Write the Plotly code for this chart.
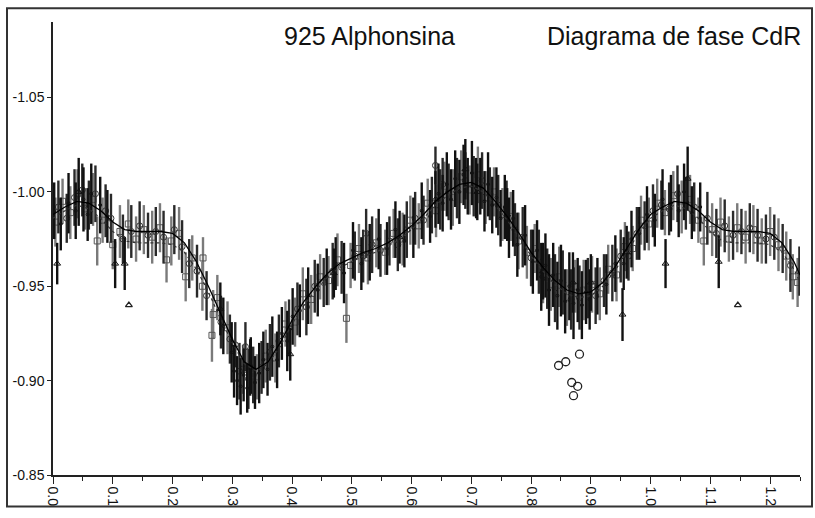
import plotly.graph_objects as go

# ---------------- data ----------------
sq_phase = [0.004, 0.016, 0.029, 0.041, 0.054, 0.067, 0.074, 0.083, 0.100, 0.112, 0.126, 0.139, 0.152, 0.166,
            0.179, 0.190, 0.198, 0.211, 0.222, 0.233, 0.250, 0.251, 0.266, 0.268, 0.275, 0.292, 0.318, 0.341,
            0.356, 0.372, 0.389, 0.405, 0.418, 0.432, 0.447, 0.461, 0.476, 0.491, 0.498, 0.512, 0.527, 0.541,
            0.556, 0.570, 0.585, 0.598, 0.612, 0.627, 0.641, 0.655, 0.669, 0.683, 0.697, 0.711, 0.724, 0.738,
            0.752, 0.766, 0.779, 0.793, 0.806, 0.820, 0.833, 0.847, 0.860, 0.874, 0.888, 0.902, 0.915, 0.929,
            0.943, 0.957, 0.970, 0.984, 0.997, 1.011, 1.024, 1.038, 1.052, 1.066, 1.080, 1.089, 1.103, 1.117,
            1.131, 1.145, 1.159, 1.172, 1.186, 1.200, 1.214, 1.227, 1.238, 1.246]
sq_mag = [-0.984, -0.995, -0.989, -0.999, -0.991, -0.996, -0.974, -0.985, -0.972, -0.979, -0.983, -0.975, -0.980, -0.976,
          -0.981, -0.964, -0.974, -0.978, -0.955, -0.965, -0.950, -0.965, -0.924, -0.935, -0.944, -0.928, -0.906, -0.902,
          -0.913, -0.912, -0.930, -0.931, -0.946, -0.943, -0.955, -0.953, -0.964, -0.933, -0.961, -0.970, -0.965, -0.973,
          -0.968, -0.978, -0.975, -0.985, -0.982, -0.994, -0.990, -1.003, -0.997, -1.008, -1.001, -1.009, -0.997, -1.000,
          -0.988, -0.987, -0.974, -0.968, -0.970, -0.956, -0.951, -0.955, -0.944, -0.950, -0.948, -0.951, -0.946, -0.959,
          -0.956, -0.971, -0.970, -0.985, -0.983, -0.994, -0.989, -0.998, -0.992, -0.996, -0.985, -0.974, -0.980, -0.984,
          -0.975, -0.981, -0.976, -0.980, -0.974, -0.979, -0.972, -0.966, -0.955, -0.952]
sq_err = [0.013, 0.012, 0.014, 0.013, 0.011, 0.014, 0.013, 0.012, 0.013, 0.014, 0.013, 0.012, 0.013, 0.014,
          0.013, 0.012, 0.013, 0.014, 0.013, 0.012, 0.013, 0.011, 0.014, 0.013, 0.012, 0.014, 0.013, 0.012,
          0.014, 0.013, 0.012, 0.013, 0.014, 0.013, 0.012, 0.013, 0.014, 0.013, 0.012, 0.013, 0.014, 0.013,
          0.012, 0.013, 0.014, 0.013, 0.012, 0.013, 0.014, 0.013, 0.015, 0.014, 0.013, 0.015, 0.014, 0.013,
          0.014, 0.013, 0.015, 0.014, 0.013, 0.015, 0.014, 0.016, 0.015, 0.014, 0.016, 0.015, 0.014, 0.013,
          0.014, 0.013, 0.012, 0.013, 0.014, 0.013, 0.012, 0.013, 0.014, 0.013, 0.012, 0.013, 0.014, 0.013,
          0.012, 0.013, 0.014, 0.013, 0.012, 0.013, 0.014, 0.013, 0.012, 0.013]

ci_phase = [0.009, 0.023, 0.036, 0.049, 0.060, 0.071, 0.088, 0.097, 0.117, 0.131, 0.145, 0.159, 0.172, 0.185,
            0.203, 0.216, 0.228, 0.241, 0.257, 0.281, 0.296, 0.305, 0.322, 0.312, 0.327, 0.335, 0.349, 0.363,
            0.378, 0.395, 0.409, 0.424, 0.438, 0.453, 0.468, 0.483, 0.505, 0.519, 0.524, 0.534, 0.548, 0.563,
            0.577, 0.592, 0.606, 0.620, 0.634, 0.640, 0.648, 0.652, 0.662, 0.676, 0.690, 0.704, 0.718, 0.731,
            0.745, 0.759, 0.773, 0.786, 0.800, 0.813, 0.827, 0.840, 0.853, 0.867, 0.881, 0.895, 0.908, 0.922,
            0.936, 0.950, 0.963, 0.977, 0.990, 1.004, 1.018, 1.031, 1.045, 1.059, 1.073, 1.095, 1.110, 1.124,
            1.138, 1.152, 1.166, 1.179, 1.193, 1.207, 1.221, 1.234, 1.249]
ci_mag = [-0.992, -0.986, -0.997, -1.001, -0.993, -0.999, -0.990, -0.986, -0.975, -0.979, -0.982, -0.977, -0.979, -0.976,
          -0.980, -0.971, -0.962, -0.958, -0.945, -0.931, -0.922, -0.919, -0.918, -0.905, -0.901, -0.903, -0.907, -0.915,
          -0.921, -0.928, -0.938, -0.939, -0.950, -0.952, -0.958, -0.960, -0.966, -0.966, -0.978, -0.972, -0.969, -0.974,
          -0.972, -0.980, -0.986, -0.985, -0.993, -1.014, -0.996, -1.004, -1.000, -1.002, -1.006, -1.003, -1.006, -0.999,
          -0.993, -0.991, -0.980, -0.976, -0.965, -0.963, -0.954, -0.949, -0.952, -0.943, -0.944, -0.949, -0.945, -0.953,
          -0.957, -0.966, -0.966, -0.978, -0.982, -0.990, -0.993, -0.991, -0.999, -0.994, -0.992, -0.986, -0.978, -0.982,
          -0.977, -0.979, -0.981, -0.977, -0.975, -0.976, -0.970, -0.961, -0.958]
ci_err = [0.014, 0.013, 0.015, 0.014, 0.013, 0.015, 0.014, 0.013, 0.013, 0.014, 0.013, 0.012, 0.013, 0.014,
          0.013, 0.014, 0.013, 0.014, 0.013, 0.014, 0.013, 0.012, 0.013, 0.015, 0.016, 0.015, 0.014, 0.015,
          0.014, 0.015, 0.014, 0.015, 0.014, 0.013, 0.015, 0.014, 0.013, 0.014, 0.013, 0.015, 0.014, 0.013,
          0.014, 0.015, 0.014, 0.013, 0.015, 0.010, 0.016, 0.014, 0.015, 0.016, 0.015, 0.016, 0.015, 0.014,
          0.016, 0.015, 0.014, 0.016, 0.015, 0.017, 0.016, 0.018, 0.017, 0.016, 0.017, 0.016, 0.015, 0.014,
          0.015, 0.014, 0.013, 0.014, 0.013, 0.014, 0.013, 0.014, 0.015, 0.014, 0.013, 0.014, 0.013, 0.014,
          0.013, 0.012, 0.013, 0.014, 0.013, 0.012, 0.013, 0.014, 0.013]

tr_phase = [0.007, 0.043, 0.104, 0.120, 0.280, 0.330, 0.397, 0.470, 0.580, 0.640, 0.690, 0.710, 0.760,
            0.820, 0.870, 0.900, 0.953, 0.960, 1.025, 1.062, 1.114]
tr_mag = [-0.962, -1.000, -0.962, -0.962, -0.938, -0.907, -0.914, -0.957, -0.976, -0.996, -1.012, -1.000, -0.988,
          -0.958, -0.952, -0.952, -0.935, -0.968, -0.962, -1.007, -0.963]
tr_err = [0.011, 0.018, 0.013, 0.014, 0.014, 0.015, 0.014, 0.013, 0.014, 0.015, 0.016, 0.015, 0.014,
          0.015, 0.016, 0.015, 0.014, 0.014, 0.013, 0.017, 0.014]

out_tr_phase = [0.127, 1.146]
out_tr_mag = [-0.940, -0.940]

out_ci_phase = [0.846, 0.858, 0.881, 0.868, 0.878, 0.871]
out_ci_mag = [-0.908, -0.910, -0.914, -0.899, -0.897, -0.892]

dk_phase = [0.002, 0.013, 0.026, 0.038, 0.051, 0.058, 0.064, 0.079, 0.091, 0.285, 0.299, 0.303, 0.308, 0.314,
            0.319, 0.325, 0.331, 0.338, 0.345, 0.352, 0.359, 0.367, 0.375, 0.383, 0.392, 0.401, 0.413, 0.427,
            0.443, 0.458, 0.473, 0.487, 0.502, 0.516, 0.530, 0.545, 0.559, 0.573, 0.588, 0.603, 0.617, 0.631,
            0.645, 0.652, 0.659, 0.666, 0.673, 0.680, 0.687, 0.694, 0.701, 0.708, 0.715, 0.722, 0.728, 0.735,
            0.742, 0.749, 0.756, 0.763, 0.770, 0.777, 0.790, 0.803, 0.810, 0.817, 0.824, 0.830, 0.837, 0.844,
            0.850, 0.857, 0.864, 0.871, 0.878, 0.885, 0.892, 0.898, 0.911, 0.926, 0.941, 0.955, 0.968, 0.981,
            0.994, 1.007, 1.020, 1.034, 1.047, 1.056, 1.069, 1.083]
dk_mag = [-0.990, -0.983, -0.994, -0.990, -0.996, -0.988, -0.999, -0.993, -0.987, -0.929, -0.915, -0.905, -0.900, -0.897,
          -0.903, -0.896, -0.908, -0.899, -0.904, -0.911, -0.906, -0.918, -0.911, -0.925, -0.921, -0.934, -0.937, -0.945,
          -0.948, -0.955, -0.962, -0.957, -0.969, -0.962, -0.968, -0.975, -0.970, -0.980, -0.974, -0.981, -0.990, -0.987,
          -0.999, -0.994, -1.004, -0.996, -1.007, -1.000, -1.009, -1.003, -1.010, -1.002, -1.003, -0.995, -1.004, -0.993,
          -0.997, -0.986, -0.992, -0.981, -0.986, -0.972, -0.977, -0.963, -0.969, -0.955, -0.961, -0.948, -0.956, -0.945,
          -0.953, -0.942, -0.950, -0.941, -0.948, -0.940, -0.947, -0.943, -0.950, -0.951, -0.962, -0.962, -0.975, -0.978,
          -0.988, -0.985, -0.996, -0.994, -0.990, -1.000, -0.989, -0.992]
dk_err = [0.015, 0.014, 0.016, 0.015, 0.017, 0.014, 0.016, 0.015, 0.014, 0.015, 0.016, 0.014, 0.013, 0.015,
          0.014, 0.013, 0.015, 0.014, 0.016, 0.015, 0.014, 0.016, 0.015, 0.014, 0.016, 0.015, 0.014, 0.015,
          0.014, 0.015, 0.014, 0.016, 0.015, 0.014, 0.015, 0.016, 0.014, 0.015, 0.014, 0.016, 0.015, 0.014,
          0.016, 0.015, 0.017, 0.016, 0.015, 0.017, 0.016, 0.015, 0.017, 0.016, 0.015, 0.016, 0.017, 0.015,
          0.016, 0.015, 0.017, 0.016, 0.015, 0.017, 0.016, 0.017, 0.016, 0.018, 0.017, 0.019, 0.017, 0.018,
          0.019, 0.017, 0.018, 0.019, 0.017, 0.018, 0.017, 0.016, 0.015, 0.016, 0.015, 0.014, 0.015, 0.014,
          0.015, 0.014, 0.016, 0.015, 0.014, 0.015, 0.014, 0.013]

fit_phase = [0.00, 0.02, 0.04, 0.06, 0.08, 0.10, 0.12, 0.14, 0.16, 0.18, 0.20, 0.22, 0.24, 0.26, 0.28, 0.30,
             0.32, 0.34, 0.36, 0.38, 0.40, 0.42, 0.44, 0.46, 0.48, 0.50, 0.52, 0.54, 0.56, 0.58, 0.60, 0.62,
             0.64, 0.66, 0.68, 0.70, 0.72, 0.74, 0.76, 0.78, 0.80, 0.82, 0.84, 0.86, 0.88, 0.90, 0.92, 0.94,
             0.96, 0.98, 1.00, 1.02, 1.04, 1.06, 1.08, 1.10, 1.12, 1.14, 1.16, 1.18, 1.20, 1.22, 1.24, 1.25]
fit_mag = [-0.988, -0.992, -0.995, -0.994, -0.990, -0.984, -0.980, -0.979, -0.979, -0.979, -0.978, -0.973, -0.963,
           -0.950, -0.936, -0.922, -0.910, -0.906, -0.910, -0.920, -0.932, -0.942, -0.950, -0.957, -0.962, -0.965,
           -0.968, -0.970, -0.973, -0.977, -0.982, -0.988, -0.995, -1.000, -1.004, -1.005, -1.002, -0.995, -0.987,
           -0.978, -0.968, -0.960, -0.953, -0.948, -0.946, -0.947, -0.952, -0.960, -0.970, -0.980, -0.988, -0.992,
           -0.995, -0.994, -0.990, -0.984, -0.980, -0.979, -0.979, -0.979, -0.978, -0.973, -0.963, -0.956]
fit2_mag = [-0.986, -0.990, -0.993, -0.991, -0.986, -0.979, -0.974, -0.973, -0.973, -0.973, -0.972, -0.968, -0.959,
            -0.947, -0.933, -0.920, -0.909, -0.905, -0.909, -0.918, -0.930, -0.940, -0.948, -0.955, -0.960, -0.963,
            -0.966, -0.968, -0.971, -0.975, -0.980, -0.986, -0.993, -0.998, -1.002, -1.003, -1.000, -0.993, -0.985,
            -0.976, -0.966, -0.958, -0.951, -0.946, -0.944, -0.945, -0.950, -0.958, -0.968, -0.978, -0.986, -0.990,
            -0.993, -0.991, -0.986, -0.979, -0.974, -0.973, -0.973, -0.973, -0.972, -0.968, -0.959, -0.952]

x_tickvals = [0.0, 0.1, 0.2, 0.3, 0.4, 0.5, 0.6, 0.7, 0.8, 0.9, 1.0, 1.1, 1.2]
x_ticktext = ["0.0", "0.1", "0.2", "0.3", "0.4", "0.5", "0.6", "0.7", "0.8", "0.9", "1.0", "1.1", "1.2"]
y_tickvals = [-1.05, -1.00, -0.95, -0.90, -0.85]
y_ticktext = ["-1.05", "-1.00", "-0.95", "-0.90", "-0.85"]

title_left = "925 Alphonsina"
title_right = "Diagrama de fase CdR"

# ---------------- figure ----------------
fig = go.Figure()


def err_trace(x, y, e, symbol, mcolor, ecolor, size):
    return go.Scatter(
        x=x, y=y, mode="markers",
        marker=dict(symbol=symbol, size=size, color=mcolor, line=dict(color=mcolor, width=1)),
        error_y=dict(type="data", array=e, visible=True, color=ecolor, thickness=2.4, width=0),
        showlegend=False, hoverinfo="skip",
    )


fig.add_trace(err_trace(sq_phase, sq_mag, sq_err, "square-open", "#555555", "#7a7a7a", 6))
fig.add_trace(err_trace(ci_phase, ci_mag, ci_err, "circle-open", "#333333", "#2a2a2a", 6))
fig.add_trace(err_trace(dk_phase, dk_mag, dk_err, "circle-open", "#111111", "#111111", 3))
fig.add_trace(err_trace(tr_phase, tr_mag, tr_err, "triangle-up-open", "#111111", "#111111", 6))

fig.add_trace(go.Scatter(x=out_ci_phase, y=out_ci_mag, mode="markers",
                         marker=dict(symbol="circle-open", size=8, color="#222222", line=dict(width=1.3)),
                         showlegend=False, hoverinfo="skip"))
fig.add_trace(go.Scatter(x=out_tr_phase, y=out_tr_mag, mode="markers",
                         marker=dict(symbol="triangle-up-open", size=6, color="#222222", line=dict(width=1.3)),
                         showlegend=False, hoverinfo="skip"))

fig.add_trace(go.Scatter(x=fit_phase, y=fit2_mag, mode="lines", line=dict(color="#333333", width=1.2, dash="dot"),
                         showlegend=False, hoverinfo="skip"))
fig.add_trace(go.Scatter(x=fit_phase, y=fit_mag, mode="lines", line=dict(color="#000000", width=1.3),
                         showlegend=False, hoverinfo="skip"))

L, R, T, B = 53, 15, 22, 35
W, H = 815, 518
pw, ph = W - L - R, H - T - B

fig.update_layout(
    width=W, height=H,
    margin=dict(l=L, r=R, t=T, b=B, pad=0),
    paper_bgcolor="white", plot_bgcolor="white",
    font=dict(family="Liberation Sans, Arial, sans-serif", color="#111111", size=13),
    showlegend=False,
    xaxis=dict(
        range=[0.0, 1.25], showgrid=False, zeroline=False,
        showline=True, linecolor="#222222", linewidth=1.5,
        tickmode="array", tickvals=x_tickvals, ticktext=x_ticktext,
        ticks="outside", ticklen=7, tickwidth=1.3, tickcolor="#222222",
        tickangle=90, tickfont=dict(size=14),
        minor=dict(dtick=0.05, tick0=0.0, ticks="outside", ticklen=4, tickwidth=1.2, tickcolor="#222222"),
    ),
    yaxis=dict(
        range=[-0.85, -1.09], showgrid=False, zeroline=False,
        showline=True, linecolor="#222222", linewidth=1.5,
        tickmode="array", tickvals=y_tickvals, ticktext=y_ticktext,
        ticks="outside", ticklen=4, tickwidth=1.3, tickcolor="#222222",
        tickfont=dict(size=14),
    ),
)


def px_x(p):
    return (p - L) / pw


def px_y(p):
    return (H - B - p) / ph


# outer frame
fig.add_shape(type="rect", xref="paper", yref="paper",
              x0=px_x(7), x1=px_x(812), y0=px_y(515), y1=px_y(8),
              line=dict(color="#333333", width=2), fillcolor="rgba(0,0,0,0)", layer="below")

fig.add_annotation(text=title_left, xref="paper", yref="paper", x=px_x(369), y=px_y(36),
                   xanchor="center", yanchor="middle", showarrow=False,
                   font=dict(size=25, color="#111111", family="Liberation Sans, Arial, sans-serif"))
fig.add_annotation(text=title_right, xref="paper", yref="paper", x=px_x(674), y=px_y(36),
                   xanchor="center", yanchor="middle", showarrow=False,
                   font=dict(size=25, color="#111111", family="Liberation Sans, Arial, sans-serif"))

fig.write_html("out.html")
